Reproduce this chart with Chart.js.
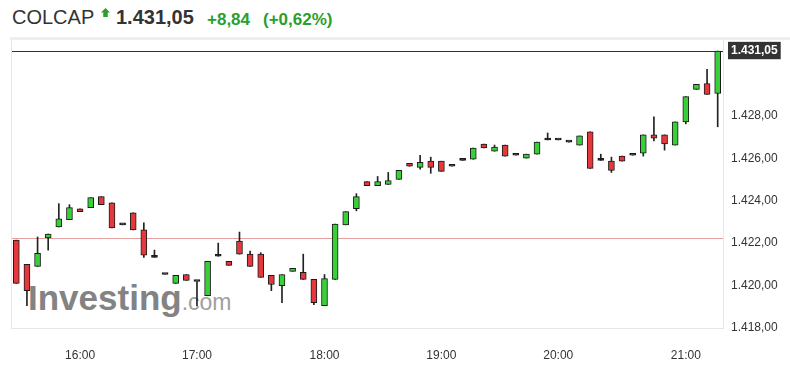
<!DOCTYPE html>
<html>
<head>
<meta charset="utf-8">
<script src="https://cdn.jsdelivr.net/npm/chart.js@4.4.1/dist/chart.umd.min.js"></script>
<style>
  html, body { margin: 0; padding: 0; background: #fff; }
  #wrap { position: relative; width: 790px; height: 369px; font-family: Arial, "Liberation Sans", sans-serif; }
  #chart { position: absolute; left: 0; top: 0; z-index: 2; }
  .hdr { position: absolute; top: 6px; white-space: nowrap; line-height: 23px; }
  #name { left: 12px; font-size: 20px; color: #333; }
  #arrow { position: absolute; left: 101px; top: 8px; width: 9px; height: 9px; background: #2a9f2a;
           clip-path: polygon(50% 0, 100% 50%, 75% 50%, 75% 100%, 25% 100%, 25% 50%, 0 50%); }
  #last { left: 116px; font-size: 20px; font-weight: bold; color: #333; }
  #chg { left: 207px; top: 8px; font-size: 17px; font-weight: bold; color: #2a9f2a; }
  #pct { left: 263px; top: 8px; font-size: 17px; font-weight: bold; color: #2a9f2a; }
  #band { position: absolute; left: 10px; top: 37px; width: 780px; height: 3px; background: #eeeeee; }
  #wm { position: absolute; left: 28px; top: 278px; z-index: 1; white-space: nowrap; color: #838383; }
  #wm b { font-size: 35px; }
  #wm span { font-size: 23px; color: #a0a0a0; }
</style>
</head>
<body>
<div id="wrap">
  <div class="hdr" id="name">COLCAP</div>
  <div id="arrow"></div>
  <div class="hdr" id="last">1.431,05</div>
  <div class="hdr" id="chg">+8,84</div>
  <div class="hdr" id="pct">(+0,62%)</div>
  <div id="band"></div>
  <div id="wm"><b>Investing</b><span>.com</span></div>
  <canvas id="chart" width="790" height="369"></canvas>
</div>
<script>
// 5-minute candles, COLCAP
const times = [
  '15:30','15:35','15:40','15:45','15:50','15:55','16:00',
  '16:05','16:10','16:15','16:20','16:25','16:30','16:35','16:40','16:45','16:50',
  '17:00','17:05','17:10','17:15','17:20','17:25','17:30','17:35','17:40','17:45','17:50','17:55','18:00',
  '18:05','18:10','18:15','18:20','18:25','18:30','18:35','18:40','18:45','18:50',
  '19:00',
  '19:05','19:10','19:15','19:20','19:25','19:30','19:35','19:40','19:45','19:50',
  '20:00',
  '20:05','20:10','20:15','20:20','20:25','20:30','20:35','20:40','20:45','20:50','20:55',
  '21:00','21:05','21:10','21:15'
];
const opens = [
  1422.14, 1421.00, 1420.90, 1422.24, 1422.76, 1423.10, 1423.62, 1423.67, 1424.19, 1423.90,
  1422.86, 1423.43, 1422.62, 1421.33, 1420.52, 1420.10, 1420.52, 1420.19, 1419.52, 1421.38,
  1421.14, 1422.10, 1421.48, 1421.48, 1420.48, 1420.00, 1420.67, 1420.62, 1420.29, 1419.05,
  1420.29, 1422.86, 1423.62, 1424.90, 1424.71, 1424.76, 1425.00, 1425.76, 1425.57, 1425.86,
  1425.86, 1425.62, 1425.90, 1425.95, 1426.67, 1426.33, 1426.62, 1426.14, 1426.00, 1426.19,
  1426.86, 1426.86, 1426.76, 1426.62, 1427.24, 1425.90, 1425.86, 1426.10, 1426.14, 1426.24,
  1427.10, 1427.10, 1426.62, 1427.71, 1429.24, 1429.52, 1429.05
];
const closes = [
  1420.10, 1419.76, 1421.52, 1422.43, 1423.14, 1423.67, 1423.48, 1424.14, 1423.81, 1422.71,
  1422.86, 1422.62, 1421.43, 1421.33, 1420.52, 1420.48, 1420.24, 1420.19, 1421.14, 1421.38,
  1420.95, 1421.48, 1420.90, 1420.38, 1420.05, 1420.52, 1420.81, 1420.29, 1419.19, 1420.33,
  1422.90, 1423.48, 1424.19, 1424.71, 1424.90, 1424.95, 1425.43, 1425.62, 1425.81, 1425.57,
  1425.38, 1425.62, 1425.90, 1426.48, 1426.48, 1426.52, 1426.10, 1426.14, 1426.19, 1426.76,
  1426.86, 1426.86, 1426.76, 1427.05, 1425.52, 1425.90, 1425.43, 1425.86, 1426.14, 1427.10,
  1426.95, 1426.67, 1427.71, 1428.90, 1429.48, 1429.00, 1431.05
];
const highs = [
  1422.14, 1421.00, 1422.29, 1422.43, 1423.86, 1423.81, 1423.62, 1424.14, 1424.19, 1423.90,
  1422.86, 1423.43, 1422.95, 1421.67, 1420.52, 1420.48, 1420.52, 1420.19, 1421.14, 1422.00,
  1421.14, 1422.52, 1421.62, 1421.55, 1420.48, 1420.52, 1420.81, 1421.48, 1420.29, 1420.52,
  1422.90, 1423.48, 1424.33, 1424.90, 1425.14, 1425.33, 1425.43, 1425.76, 1426.14, 1426.05,
  1425.86, 1425.62, 1425.90, 1426.48, 1426.67, 1426.62, 1426.62, 1426.14, 1426.19, 1426.76,
  1427.19, 1426.86, 1426.76, 1427.05, 1427.24, 1426.19, 1426.05, 1426.10, 1426.14, 1427.10,
  1427.95, 1427.10, 1427.71, 1428.90, 1429.48, 1430.19, 1431.05
];
const lows = [
  1420.10, 1419.05, 1420.90, 1421.67, 1422.76, 1423.10, 1423.48, 1423.67, 1423.81, 1422.71,
  1422.86, 1422.62, 1421.33, 1421.33, 1420.52, 1420.10, 1420.24, 1419.05, 1419.52, 1421.38,
  1420.95, 1421.48, 1420.90, 1420.38, 1419.76, 1419.19, 1420.67, 1420.29, 1419.10, 1419.05,
  1420.29, 1422.86, 1423.52, 1424.71, 1424.71, 1424.76, 1425.00, 1425.62, 1425.48, 1425.29,
  1425.38, 1425.62, 1425.90, 1425.95, 1426.48, 1426.33, 1426.10, 1426.14, 1426.00, 1426.19,
  1426.86, 1426.86, 1426.76, 1426.62, 1425.52, 1425.90, 1425.33, 1425.86, 1426.14, 1426.10,
  1426.81, 1426.38, 1426.62, 1427.62, 1429.24, 1429.00, 1427.48
];
const lastPrice = 1431.05;
const prevClose = 1422.21;
const yTicks = [1418, 1420, 1422, prevClose, 1424, 1426, 1428, lastPrice];

const fmt = v => {
  const [i, d] = v.toFixed(2).split('.');
  return i.replace(/\B(?=(\d{3})+(?!\d))/g, '.') + ',' + d;
};
const bodyColor = i => closes[i] > opens[i] ? '#38cf38' : closes[i] < opens[i] ? '#e4383d' : '#111';

const frame = {
  id: 'frame',
  beforeDatasetsDraw(chart) {
    const { ctx, chartArea: a } = chart;
    ctx.save();
    ctx.strokeStyle = '#e6e6e6';
    ctx.lineWidth = 1;
    ctx.beginPath();
    ctx.moveTo(a.left + 0.5, a.top);
    ctx.lineTo(a.left + 0.5, a.bottom);
    ctx.stroke();
    ctx.restore();
  }
};

new Chart(document.getElementById('chart'), {
  type: 'bar',
  data: {
    labels: times,
    datasets: [
      {
        data: lows.map((l, i) => [l, highs[i]]),
        backgroundColor: '#222', barThickness: 1, grouped: false, order: 2
      },
      {
        data: opens.map((o, i) => [o, closes[i]]),
        backgroundColor: opens.map((o, i) => bodyColor(i)),
        borderColor: '#1a1a1a', borderWidth: 1, borderSkipped: false,
        barThickness: 6, minBarLength: 2, grouped: false, order: 1
      }
    ]
  },
  options: {
    responsive: false, animation: false,
    layout: { padding: { left: 11, top: 40, right: 0, bottom: 0 } },
    plugins: { legend: { display: false }, tooltip: { enabled: false } },
    scales: {
      x: {
        offset: true,
        afterFit: s => { s.height = 41; },
        grid: { display: false },
        border: { display: true, color: '#e6e6e6' },
        ticks: {
          autoSkip: false, maxRotation: 0, padding: 12, color: '#333',
          font: { family: 'Arial, "Liberation Sans"', size: 12 },
          callback: (v, i) => times[i].endsWith(':00') ? times[i] : ''
        }
      },
      y: {
        position: 'right', min: 1418, max: 1431.57,
        afterBuildTicks: s => { s.ticks = yTicks.map(v => ({ value: v })); },
        afterFit: s => { s.width = 67; },
        grid: {
          drawTicks: false,
          color: c => c.tick && c.tick.value === lastPrice ? '#333' : c.tick && c.tick.value === prevClose ? '#e5a0a0' : 'rgba(0,0,0,0)'
        },
        border: { display: true, color: '#e6e6e6' },
        ticks: {
          padding: 8,
          color: c => c.tick && c.tick.value === lastPrice ? '#fff' : '#333',
          font: c => ({ family: 'Arial, "Liberation Sans"', size: 12, weight: c.tick && c.tick.value === lastPrice ? 'bold' : 'normal' }),
          showLabelBackdrop: true,
          backdropColor: c => c.tick && c.tick.value === lastPrice ? '#333' : 'rgba(0,0,0,0)',
          backdropPadding: { top: 2, bottom: 1, left: 3, right: 3 },
          callback: v => v === prevClose ? '' : fmt(v)
        }
      }
    }
  },
  plugins: [frame]
});
</script>
</body>
</html>
